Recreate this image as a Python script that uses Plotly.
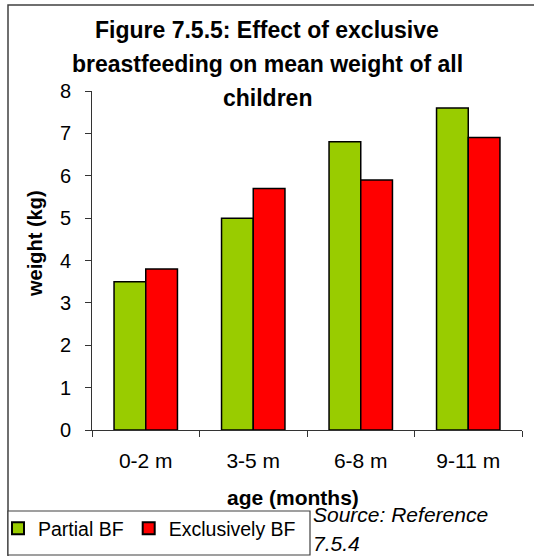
import plotly.graph_objects as go

categories = ["0-2 m", "3-5 m", "6-8 m", "9-11 m"]
partial_bf = [3.5, 5.0, 6.8, 7.6]
exclusive_bf = [3.8, 5.7, 5.9, 6.9]
y_ticks = [0, 1, 2, 3, 4, 5, 6, 7, 8]
title_lines = ["Figure 7.5.5: Effect of exclusive",
               "breastfeeding on mean weight of all",
               "children"]
source_lines = ["Source: Reference", "7.5.4"]

FONT = "Arial, Liberation Sans, sans-serif"

# plot area in pixels
W, H = 534, 556
L, R, T, B = 92, 12, 91, 126
PW, PH = W - L - R, H - T - B


def px(x):
    return (x - L) / PW


def py(y):
    return (H - B - y) / PH


fig = go.Figure()
fig.add_trace(go.Bar(x=categories, y=partial_bf, name="Partial BF",
                     marker=dict(color="#99CC00", line=dict(color="black", width=1.5))))
fig.add_trace(go.Bar(x=categories, y=exclusive_bf, name="Exclusively BF",
                     marker=dict(color="#FF0000", line=dict(color="black", width=1.5))))

annotations = []
for text, yc in zip(title_lines, [30, 64, 98]):
    annotations.append(dict(text="<b>" + text + "</b>", x=px(267), y=py(yc), xref="paper", yref="paper",
                            xanchor="center", yanchor="middle", showarrow=False,
                            font=dict(family=FONT, size=23, color="black")))
annotations.append(dict(text="<b>age (months)</b>", x=px(293), y=py(497), xref="paper", yref="paper",
                        xanchor="center", yanchor="middle", showarrow=False,
                        font=dict(family=FONT, size=21, color="black")))
annotations.append(dict(text="<b>weight (kg)</b>", x=px(35), y=py(244), xref="paper", yref="paper",
                        xanchor="center", yanchor="middle", showarrow=False, textangle=-90,
                        font=dict(family=FONT, size=20, color="black")))
for text, yc in zip(source_lines, [514, 543]):
    annotations.append(dict(text="<i>" + text + "</i>", x=px(311), y=py(yc), xref="paper", yref="paper",
                            xanchor="left", yanchor="middle", showarrow=False,
                            font=dict(family=FONT, size=21, color="black")))

shapes = [
    dict(type="rect", xref="paper", yref="paper", x0=px(8), x1=px(580), y0=py(5), y1=py(640),
         line=dict(color="#404040", width=1.5), fillcolor="rgba(0,0,0,0)", layer="below"),
    dict(type="rect", xref="paper", yref="paper", x0=px(8), x1=px(310), y0=py(511), y1=py(555),
         line=dict(color="#404040", width=1.2), fillcolor="white", layer="above"),
]

fig.update_layout(
    width=W, height=H,
    margin=dict(l=L, r=R, t=T, b=B, autoexpand=False),
    paper_bgcolor="white", plot_bgcolor="white",
    font=dict(family=FONT, size=20, color="black"),
    barmode="group", bargap=0.41, bargroupgap=0,
    showlegend=True,
    legend=dict(orientation="h", x=px(-2), y=py(509), xanchor="left", yanchor="top",
                bgcolor="rgba(0,0,0,0)", borderwidth=0,
                font=dict(family=FONT, size=19.5, color="black"),
                itemsizing="constant", traceorder="normal"),
    annotations=annotations,
    shapes=shapes,
    xaxis=dict(showline=True, linecolor="#333333", linewidth=1, showgrid=False,
               ticks="outside", ticklen=6, tickcolor="#333333", tickson="boundaries",
               ticklabelstandoff=12, tickfont=dict(size=21)),
    yaxis=dict(range=[0, 8], tickvals=y_ticks, showline=True, linecolor="#333333", linewidth=1,
               showgrid=False, zeroline=False, ticks="outside", ticklen=6, tickcolor="#333333",
               ticklabelstandoff=10, tickfont=dict(size=20)),
)

fig.write_html("out.html", config={"displayModeBar": False},
               post_script="document.body.style.margin='0px';")
